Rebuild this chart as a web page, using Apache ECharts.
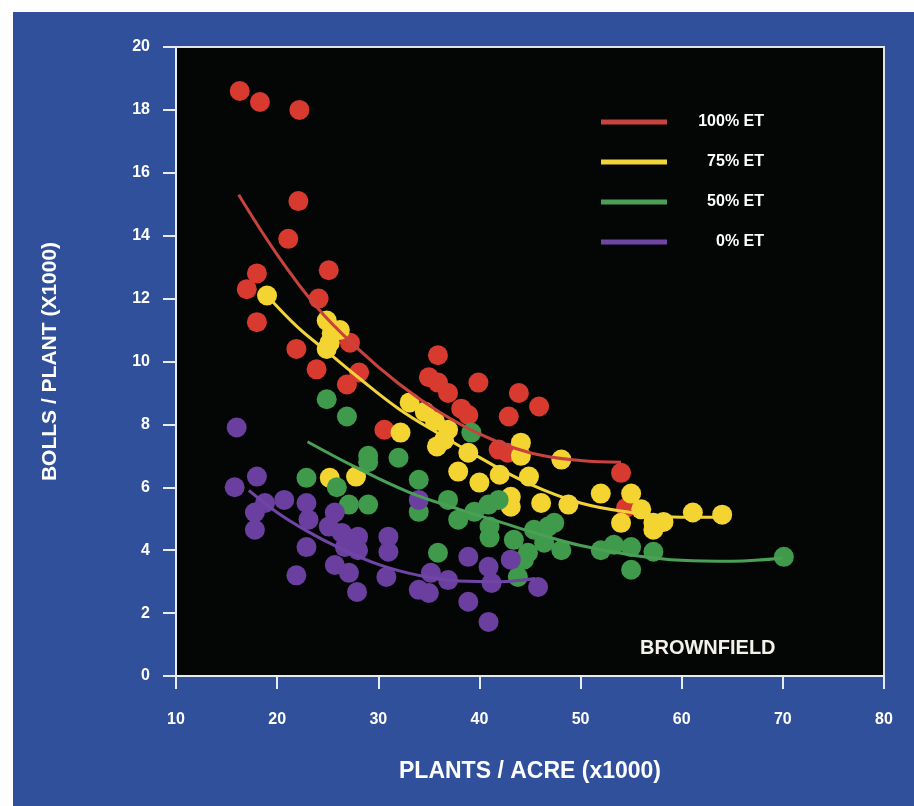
<!DOCTYPE html>
<html>
<head>
<meta charset="utf-8">
<script src="https://cdn.jsdelivr.net/npm/echarts@6/dist/echarts.min.js"></script>
<style>
    html,body{margin:0;padding:0;background:#ffffff;}
    #bg{position:absolute;left:13px;top:12px;right:0;bottom:0;width:901px;height:794px;background:#30509c;}
    #main{position:absolute;left:0;top:0;width:914px;height:806px;}
</style>
</head>
<body>
<div id="bg"></div>
<div id="main"></div>
<script>
// x = plants/acre (x1000), y = bolls/plant (x1000)
var xTicks = [10, 20, 30, 40, 50, 60, 70, 80];
var yTicks = [0, 2, 4, 6, 8, 10, 12, 14, 16, 18, 20];
var seriesNames = ['100% ET', '75% ET', '50% ET', '0% ET'];

var et100 = [[16.3,18.6],[18.3,18.25],[22.2,18.0],[22.1,15.1],[21.1,13.9],[18.0,12.8],[17.0,12.3],
    [25.1,12.9],[24.1,12.0],[18.0,11.25],[21.9,10.4],[23.9,9.75],[27.2,10.6],[28.1,9.65],[26.9,9.27],
    [30.6,7.83],[35.9,10.2],[35.0,9.5],[35.9,9.33],[36.9,9.0],[38.2,8.5],[38.9,8.3],[39.9,9.33],
    [43.9,9.0],[45.9,8.57],[42.9,8.25],[41.9,7.2],[42.8,7.1],[54.0,6.46],[54.5,5.35]];
var et75 = [[19.0,12.1],[24.9,11.3],[25.4,10.9],[26.2,11.0],[25.2,10.6],[24.9,10.4],[32.2,7.74],
    [33.1,8.7],[34.6,8.4],[35.6,8.1],[36.9,7.83],[36.5,7.5],[35.8,7.3],[38.9,7.1],[37.9,6.5],
    [40.0,6.15],[42.0,6.4],[44.1,7.42],[44.1,7.0],[44.9,6.34],[48.1,6.88],[43.1,5.7],[43.1,5.38],
    [46.1,5.5],[48.8,5.45],[52.0,5.8],[55.0,5.8],[54.0,4.87],[56.0,5.3],[57.2,4.87],[57.2,4.65],
    [58.2,4.9],[61.1,5.2],[64.0,5.13],[27.8,6.34],[25.2,6.3]];
var et50 = [[24.9,8.8],[26.9,8.25],[29.0,7.0],[29.0,6.8],[32.0,6.94],[22.9,6.3],[25.9,6.0],[27.1,5.45],
    [29.0,5.45],[34.0,6.24],[34.0,5.22],[36.9,5.6],[37.9,4.97],[39.2,7.74],[39.5,5.22],[40.9,5.45],
    [41.9,5.6],[41.0,4.75],[41.0,4.4],[43.4,4.33],[45.4,4.65],[47.4,4.87],[46.4,4.24],[44.8,3.92],
    [48.1,4.0],[43.8,3.15],[35.9,3.92],[52.0,4.0],[53.3,4.17],[55.0,4.1],[57.2,3.95],[55.0,3.38],
    [70.1,3.79],[46.8,4.75],[44.4,3.7]];
var et0 = [[16.0,7.9],[15.8,6.0],[18.0,6.34],[18.8,5.5],[17.8,5.2],[17.8,4.65],[20.7,5.6],[22.9,5.5],
    [23.1,4.97],[25.7,5.2],[25.1,4.75],[26.4,4.55],[28.0,4.43],[26.7,4.1],[28.0,4.0],[22.9,4.1],
    [31.0,4.43],[31.0,3.95],[25.7,3.53],[27.1,3.28],[21.9,3.2],[27.9,2.67],[30.8,3.15],[34.0,2.74],
    [35.0,2.64],[35.2,3.28],[36.9,3.05],[38.9,3.79],[40.9,3.47],[43.1,3.7],[38.9,2.36],[40.9,1.72],
    [41.2,2.96],[34.0,5.6],[45.8,2.83]];

// fitted curves
var fit100 = [[16.2,15.3],[20,13.4],[24,11.7],[28,10.4],[32,9.3],[36,8.4],[40,7.7],[45,7.1],[50,6.85],[54,6.8]];
var fit75 = [[19.0,12.1],[22,11.1],[25,10.3],[28,9.5],[32,8.5],[36,7.7],[40,6.95],[45,6.1],[50,5.5],[55,5.2],[60,5.05],[64,5.05]];
var fit50 = [[23,7.45],[28,6.6],[33,5.85],[38,5.3],[42,4.9],[46,4.5],[50,4.15],[55,3.85],[60,3.68],[65,3.65],[70,3.75]];
var fit0 = [[17.2,5.9],[20,5.2],[23,4.6],[26,4.1],[30,3.55],[34,3.2],[38,3.02],[42,3.0],[45.5,3.1]];

var dotColors = ['#d93a2f', '#f4d430', '#3f9a4b', '#6b3fa0'];
var lineColors = ['#c8433d', '#f1d43a', '#4aa156', '#7045a6'];
var font = '"Liberation Sans", Arial, sans-serif';

var pointSets = [et100, et75, et50, et0];
var fitSets = [fit100, fit75, fit50, fit0];

var series = [];
for (var i = 0; i < pointSets.length; i++) {
    series.push({
        name: seriesNames[i],
        type: 'scatter',
        data: pointSets[i],
        symbolSize: 20,
        itemStyle: {color: dotColors[i], opacity: 1},
        z: 2 + i * 0.1
    });
}
for (var j = 0; j < fitSets.length; j++) {
    series.push({
        name: seriesNames[j],
        type: 'line',
        data: fitSets[j],
        smooth: 0.4,
        showSymbol: false,
        lineStyle: {color: lineColors[j], width: 3},
        itemStyle: {color: lineColors[j]},
        z: 4
    });
}

var myChart = echarts.init(document.getElementById('main'));
var option = {
    backgroundColor: 'transparent',
    animation: false,
    grid: {
        left: 176, right: 30, top: 47, bottom: 130,
        show: true,
        backgroundColor: '#040605',
        borderColor: '#dfe3ea',
        borderWidth: 2
    },
    legend: {
        orient: 'vertical',
        left: 596,
        top: 109,
        itemWidth: 66,
        itemHeight: 5,
        itemGap: 24,
        icon: 'rect',
        selectedMode: false,
        data: seriesNames.map(function (n, k) {
            return {name: n, icon: 'rect', itemStyle: {color: lineColors[k]}};
        }),
        formatter: '{a|{name}}',
        textStyle: {
            color: '#ffffff',
            fontFamily: font,
            fontWeight: 'bold',
            fontSize: 16,
            rich: {a: {width: 92, align: 'right', color: '#ffffff', fontWeight: 'bold', fontSize: 16, fontFamily: font}}
        }
    },
    xAxis: {
        type: 'value',
        min: xTicks[0],
        max: xTicks[xTicks.length - 1],
        interval: 10,
        name: 'PLANTS / ACRE (x1000)',
        nameLocation: 'middle',
        nameGap: 84,
        nameTextStyle: {color: '#ffffff', fontFamily: font, fontWeight: 'bold', fontSize: 23},
        axisLine: {show: true, lineStyle: {color: '#e8ebf2', width: 2}},
        axisTick: {show: true, length: 13, lineStyle: {color: '#e8ebf2', width: 2}},
        axisLabel: {color: '#ffffff', fontFamily: font, fontWeight: 'bold', fontSize: 16, margin: 36},
        splitLine: {show: false}
    },
    yAxis: {
        type: 'value',
        min: yTicks[0],
        max: yTicks[yTicks.length - 1],
        interval: 2,
        name: 'BOLLS / PLANT (X1000)',
        nameLocation: 'middle',
        nameRotate: 90,
        nameGap: 115,
        nameTextStyle: {color: '#ffffff', fontFamily: font, fontWeight: 'bold', fontSize: 21},
        axisLine: {show: true, lineStyle: {color: '#e8ebf2', width: 2}},
        axisTick: {show: true, length: 13, lineStyle: {color: '#e8ebf2', width: 2}},
        axisLabel: {color: '#ffffff', fontFamily: font, fontWeight: 'bold', fontSize: 16, margin: 26},
        splitLine: {show: false}
    },
    graphic: [{
        type: 'text',
        left: 640,
        top: 638,
        style: {text: 'BROWNFIELD', fill: '#f4f1ea', font: 'bold 20px ' + font}
    }],
    series: series
};
myChart.setOption(option);
</script>
</body>
</html>
